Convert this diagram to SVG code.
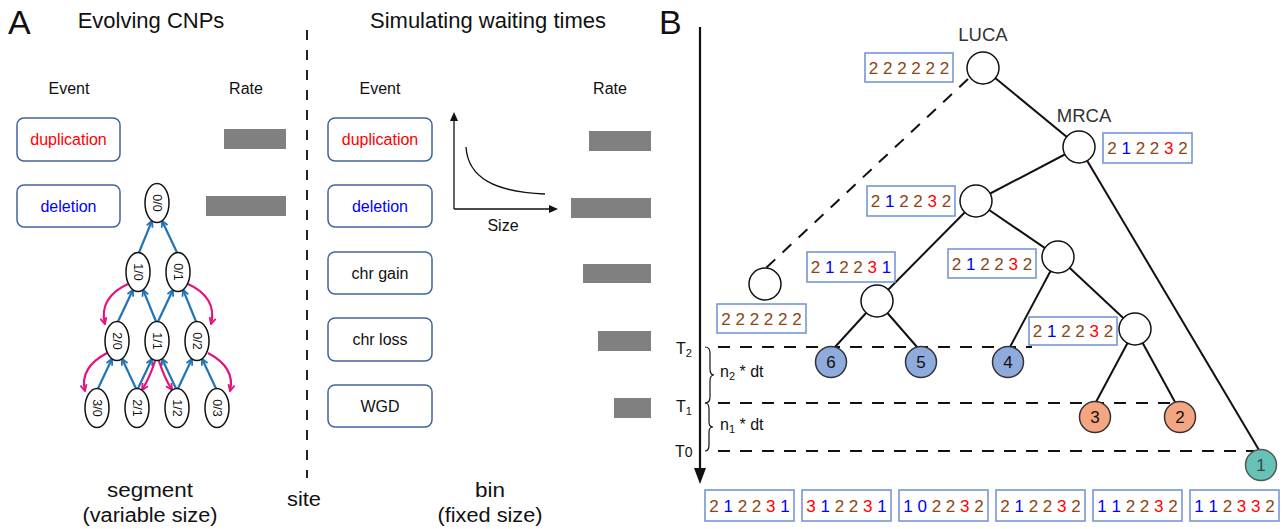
<svg xmlns="http://www.w3.org/2000/svg" width="1282" height="529" viewBox="0 0 1282 529">
<style>
text{font-family:"Liberation Sans",Arial,sans-serif;fill:#111}
.big{font-size:34px}
.h{font-size:22px}
.lab{font-size:16px}
.ev{fill:#fff;stroke:#41639f;stroke-width:1.5}
.bar{fill:#808080}
.ell{fill:#fff;stroke:#111;stroke-width:1.5}
.et{font-size:12.5px}
.bl{stroke:#1f74b8;stroke-width:2.2;fill:none}
.pk{stroke:#e5117f;stroke-width:2.2;fill:none}
.cnb{fill:#fff;stroke:#6d90d8;stroke-width:1.5}
.cn{font-size:17px}
.b{fill:#8b4513}.u{fill:#0000ff}.r{fill:#ff0000}
.edge{stroke:#111;stroke-width:2;fill:none}
.dash{stroke:#111;stroke-width:2;stroke-dasharray:12 10;fill:none}
.node{fill:#fff;stroke:#111;stroke-width:1.5}
.lf{stroke:#333;stroke-width:1.5}
.lt{font-size:17px}
</style>
<defs>
<marker id="ab" viewBox="0 0 10 10" refX="8.5" refY="5" markerWidth="9" markerHeight="9" markerUnits="userSpaceOnUse" orient="auto"><path d="M1.5,1.5 L8.5,5 L1.5,8.5" fill="none" stroke="#1f74b8" stroke-width="2"/></marker>
<marker id="ap" viewBox="0 0 10 10" refX="8.5" refY="5" markerWidth="9" markerHeight="9" markerUnits="userSpaceOnUse" orient="auto"><path d="M1.5,1.5 L8.5,5 L1.5,8.5" fill="none" stroke="#e5117f" stroke-width="2"/></marker>
</defs>
<rect width="1282" height="529" fill="#fff"/>

<!-- Panel A -->
<text class="big" x="8" y="34">A</text>
<text class="h" x="151" y="28" text-anchor="middle">Evolving CNPs</text>
<text class="h" x="488" y="28" text-anchor="middle">Simulating waiting times</text>
<text class="lab" x="69" y="94" text-anchor="middle">Event</text>
<text class="lab" x="246" y="94" text-anchor="middle">Rate</text>
<text class="lab" x="380" y="94" text-anchor="middle">Event</text>
<text class="lab" x="610" y="94" text-anchor="middle">Rate</text>

<g id="ev-dup-left"><rect class="ev" x="17" y="118" width="103" height="43" rx="7"/><text class="lab" x="68.5" y="145" text-anchor="middle" style="fill:#ff0000">duplication</text></g>
<g id="ev-del-left"><rect class="ev" x="17" y="185" width="103" height="42" rx="7"/><text class="lab" x="68.5" y="211.5" text-anchor="middle" style="fill:#0000ff">deletion</text></g>
<rect class="bar" x="224" y="129" width="62" height="20"/>
<rect class="bar" x="206" y="196" width="80" height="20"/>

<g id="ev-dup"><rect class="ev" x="328" y="118" width="104" height="43" rx="7"/><text class="lab" x="380" y="145" text-anchor="middle" style="fill:#ff0000">duplication</text></g>
<g id="ev-del"><rect class="ev" x="328" y="185" width="104" height="42" rx="7"/><text class="lab" x="380" y="211.5" text-anchor="middle" style="fill:#0000ff">deletion</text></g>
<g id="ev-gain"><rect class="ev" x="328" y="252" width="104" height="42" rx="7"/><text class="lab" x="380" y="278.5" text-anchor="middle">chr gain</text></g>
<g id="ev-loss"><rect class="ev" x="328" y="318" width="104" height="43" rx="7"/><text class="lab" x="380" y="345" text-anchor="middle">chr loss</text></g>
<g id="ev-wgd"><rect class="ev" x="328" y="385" width="104" height="42" rx="7"/><text class="lab" x="380" y="411.5" text-anchor="middle">WGD</text></g>
<rect class="bar" x="589" y="131" width="62" height="20"/>
<rect class="bar" x="571" y="198" width="80" height="20"/>
<rect class="bar" x="583" y="264" width="68" height="19"/>
<rect class="bar" x="598" y="331" width="53" height="20"/>
<rect class="bar" x="614" y="398" width="37" height="20"/>

<!-- size plot -->
<g id="size-plot">
<line x1="454" y1="209" x2="454" y2="120" stroke="#111" stroke-width="1.3"/>
<polygon points="450,121 458,121 454,112" fill="#111"/>
<line x1="454" y1="209" x2="550" y2="209" stroke="#111" stroke-width="1.3"/>
<polygon points="549,205 549,213 558,209" fill="#111"/>
<path d="M466,147 C468,178 495,192 545,194" fill="none" stroke="#111" stroke-width="1.3"/>
<text class="lab" x="503" y="231" text-anchor="middle">Size</text>
</g>

<line x1="307" y1="30" x2="307" y2="478" stroke="#222" stroke-width="2" stroke-dasharray="10 10"/>

<text x="150" y="497" font-size="20" text-anchor="middle" textLength="86" lengthAdjust="spacingAndGlyphs">segment</text>
<text x="150" y="522" font-size="20" text-anchor="middle" textLength="135" lengthAdjust="spacingAndGlyphs">(variable size)</text>
<text x="304" y="506" font-size="20" text-anchor="middle" textLength="34" lengthAdjust="spacingAndGlyphs">site</text>
<text x="490" y="497" font-size="20" text-anchor="middle" textLength="30" lengthAdjust="spacingAndGlyphs">bin</text>
<text x="490" y="522" font-size="20" text-anchor="middle" textLength="105" lengthAdjust="spacingAndGlyphs">(fixed size)</text>

<!-- state graph connectors -->
<g id="state-connectors">
<line class="bl" x1="139" y1="252.5" x2="152" y2="220.7" marker-end="url(#ab)"/>
<line class="bl" x1="177" y1="252.5" x2="162" y2="220.7" marker-end="url(#ab)"/>
<line class="bl" x1="118" y1="321.5" x2="133" y2="289.7" marker-end="url(#ab)"/>
<line class="bl" x1="156" y1="321.5" x2="143" y2="289.7" marker-end="url(#ab)"/>
<line class="bl" x1="158" y1="321.5" x2="173" y2="289.7" marker-end="url(#ab)"/>
<line class="bl" x1="196" y1="321.5" x2="183" y2="289.7" marker-end="url(#ab)"/>
<line class="bl" x1="98" y1="388.5" x2="112" y2="358.7" marker-end="url(#ab)"/>
<line class="bl" x1="136" y1="388.5" x2="122" y2="358.7" marker-end="url(#ab)"/>
<line class="bl" x1="138" y1="388.5" x2="152" y2="358.7" marker-end="url(#ab)"/>
<line class="bl" x1="176" y1="388.5" x2="162" y2="358.7" marker-end="url(#ab)"/>
<line class="bl" x1="178" y1="388.5" x2="192" y2="358.7" marker-end="url(#ab)"/>
<line class="bl" x1="216" y1="388.5" x2="202" y2="358.7" marker-end="url(#ab)"/>
<path class="pk" d="M128,284 C110,292 100,306 105,324" marker-end="url(#ap)"/>
<path class="pk" d="M188,284 C206,292 216,306 211,324" marker-end="url(#ap)"/>
<path class="pk" d="M107,353 C90,362 81,375 85,391" marker-end="url(#ap)"/>
<path class="pk" d="M208,353 C225,362 234,375 230,391" marker-end="url(#ap)"/>
<path class="pk" d="M155,361 Q150,377 142,390" marker-end="url(#ap)"/>
<path class="pk" d="M159,361 Q164,377 172,390" marker-end="url(#ap)"/>
</g>

<g id="s00"><ellipse class="ell" cx="157" cy="203" rx="12" ry="19.5"/><text class="et" transform="translate(157,203) rotate(90)" text-anchor="middle" y="4.5">0/0</text></g>
<g id="s10"><ellipse class="ell" cx="138" cy="272" rx="12" ry="19.5"/><text class="et" transform="translate(138,272) rotate(90)" text-anchor="middle" y="4.5">1/0</text></g>
<g id="s01"><ellipse class="ell" cx="178" cy="272" rx="12" ry="19.5"/><text class="et" transform="translate(178,272) rotate(90)" text-anchor="middle" y="4.5">0/1</text></g>
<g id="s20"><ellipse class="ell" cx="117" cy="341" rx="12" ry="19.5"/><text class="et" transform="translate(117,341) rotate(90)" text-anchor="middle" y="4.5">2/0</text></g>
<g id="s11"><ellipse class="ell" cx="157" cy="341" rx="12" ry="19.5"/><text class="et" transform="translate(157,341) rotate(90)" text-anchor="middle" y="4.5">1/1</text></g>
<g id="s02"><ellipse class="ell" cx="197" cy="341" rx="12" ry="19.5"/><text class="et" transform="translate(197,341) rotate(90)" text-anchor="middle" y="4.5">0/2</text></g>
<g id="s30"><ellipse class="ell" cx="97" cy="408" rx="12" ry="19.5"/><text class="et" transform="translate(97,408) rotate(90)" text-anchor="middle" y="4.5">3/0</text></g>
<g id="s21"><ellipse class="ell" cx="137" cy="408" rx="12" ry="19.5"/><text class="et" transform="translate(137,408) rotate(90)" text-anchor="middle" y="4.5">2/1</text></g>
<g id="s12"><ellipse class="ell" cx="177" cy="408" rx="12" ry="19.5"/><text class="et" transform="translate(177,408) rotate(90)" text-anchor="middle" y="4.5">1/2</text></g>
<g id="s03"><ellipse class="ell" cx="217" cy="408" rx="12" ry="19.5"/><text class="et" transform="translate(217,408) rotate(90)" text-anchor="middle" y="4.5">0/3</text></g>

<!-- Panel B -->
<text class="big" x="659" y="34">B</text>
<g id="time-axis">
<line x1="700" y1="27" x2="700" y2="472" stroke="#111" stroke-width="2.2"/>
<polygon points="694,468 706,468 700,484" fill="#111"/>
<text x="676" y="354" font-size="16">T<tspan font-size="11" dy="3">2</tspan></text>
<text x="676" y="412" font-size="16">T<tspan font-size="11" dy="3">1</tspan></text>
<text x="675" y="457" font-size="16">T<tspan font-size="14">0</tspan></text>
<path d="M705,347 Q710,347 710,353 L710,369 Q710,375 714,375 Q710,375 710,381 L710,397 Q710,403 705,403" fill="none" stroke="#111" stroke-width="1.2"/>
<path d="M705,403 Q709,403 709,409 L709,422 Q709,427 713,427 Q709,427 709,432 L709,445 Q709,451 705,451" fill="none" stroke="#111" stroke-width="1.2"/>
<text x="720" y="377" font-size="16">n<tspan font-size="11" dy="3">2</tspan><tspan dy="-3"> * dt</tspan></text>
<text x="720" y="430" font-size="16">n<tspan font-size="11" dy="3">1</tspan><tspan dy="-3"> * dt</tspan></text>
</g>

<g id="tree-connectors">
<line class="dash" x1="718" y1="347" x2="1032" y2="347"/>
<line class="dash" x1="718" y1="403" x2="1177" y2="403"/>
<line class="dash" x1="718" y1="451" x2="1260" y2="451"/>
<line class="dash" x1="968" y1="79" x2="766" y2="268"/>
<line class="edge" x1="983" y1="68" x2="1079" y2="147"/>
<line class="edge" x1="1079" y1="147" x2="1259" y2="450"/>
<line class="edge" x1="1079" y1="147" x2="976" y2="201"/>
<line class="edge" x1="976" y1="201" x2="877" y2="301"/>
<line class="edge" x1="976" y1="201" x2="1058" y2="257"/>
<line class="edge" x1="877" y1="301" x2="835" y2="347"/>
<line class="edge" x1="877" y1="301" x2="917" y2="347"/>
<line class="edge" x1="1058" y1="257" x2="1010" y2="347"/>
<line class="edge" x1="1058" y1="257" x2="1135" y2="329"/>
<line class="edge" x1="1135" y1="329" x2="1096" y2="402"/>
<line class="edge" x1="1135" y1="329" x2="1175" y2="402"/>
</g>

<g id="luca"><text x="983" y="41" font-size="18.5" text-anchor="middle" style="fill:#333">LUCA</text><circle class="node" cx="983" cy="68" r="16"/>
<rect class="cnb" x="865" y="53" width="88" height="29"/><text class="cn" x="909" y="73.5" text-anchor="middle"><tspan class="b">2</tspan> <tspan class="b">2</tspan> <tspan class="b">2</tspan> <tspan class="b">2</tspan> <tspan class="b">2</tspan> <tspan class="b">2</tspan></text></g>
<g id="mrca"><text x="1084" y="122" font-size="18.5" text-anchor="middle" style="fill:#333">MRCA</text><circle class="node" cx="1079" cy="147" r="16"/>
<rect class="cnb" x="1103" y="133" width="89" height="30"/><text class="cn" x="1147.5" y="154" text-anchor="middle"><tspan class="b">2</tspan> <tspan class="u">1</tspan> <tspan class="b">2</tspan> <tspan class="b">2</tspan> <tspan class="r">3</tspan> <tspan class="b">2</tspan></text></g>
<g id="n3"><circle class="node" cx="976" cy="201" r="16"/>
<rect class="cnb" x="867" y="186" width="88" height="30"/><text class="cn" x="911" y="207" text-anchor="middle"><tspan class="b">2</tspan> <tspan class="u">1</tspan> <tspan class="b">2</tspan> <tspan class="b">2</tspan> <tspan class="r">3</tspan> <tspan class="b">2</tspan></text></g>
<g id="dead"><circle class="node" cx="765" cy="284" r="16"/>
<rect class="cnb" x="717" y="304" width="89" height="29"/><text class="cn" x="761.5" y="324.5" text-anchor="middle"><tspan class="b">2</tspan> <tspan class="b">2</tspan> <tspan class="b">2</tspan> <tspan class="b">2</tspan> <tspan class="b">2</tspan> <tspan class="b">2</tspan></text></g>
<g id="n4"><circle class="node" cx="877" cy="301" r="16"/>
<rect class="cnb" x="807" y="252" width="88" height="30"/><text class="cn" x="851" y="273" text-anchor="middle"><tspan class="b">2</tspan> <tspan class="u">1</tspan> <tspan class="b">2</tspan> <tspan class="b">2</tspan> <tspan class="r">3</tspan> <tspan class="u">1</tspan></text></g>
<g id="n5"><circle class="node" cx="1058" cy="257" r="16"/>
<rect class="cnb" x="948" y="249" width="88" height="29"/><text class="cn" x="992" y="269.5" text-anchor="middle"><tspan class="b">2</tspan> <tspan class="u">1</tspan> <tspan class="b">2</tspan> <tspan class="b">2</tspan> <tspan class="r">3</tspan> <tspan class="b">2</tspan></text></g>
<g id="n6"><circle class="node" cx="1135" cy="329" r="16"/>
<rect class="cnb" x="1029" y="317" width="88" height="28"/><text class="cn" x="1073" y="337" text-anchor="middle"><tspan class="b">2</tspan> <tspan class="u">1</tspan> <tspan class="b">2</tspan> <tspan class="b">2</tspan> <tspan class="r">3</tspan> <tspan class="b">2</tspan></text></g>

<g id="leaf6"><circle class="lf" cx="831" cy="362" r="15.5" fill="#8faadc"/><text class="lt" x="831" y="368" text-anchor="middle">6</text></g>
<g id="leaf5"><circle class="lf" cx="921" cy="362" r="15.5" fill="#8faadc"/><text class="lt" x="921" y="368" text-anchor="middle">5</text></g>
<g id="leaf4"><circle class="lf" cx="1008" cy="362" r="15.5" fill="#8faadc"/><text class="lt" x="1008" y="368" text-anchor="middle">4</text></g>
<g id="leaf3"><circle class="lf" cx="1095" cy="417" r="15.5" fill="#f4a582"/><text class="lt" x="1095" y="423" text-anchor="middle">3</text></g>
<g id="leaf2"><circle class="lf" cx="1180" cy="417" r="15.5" fill="#f4a582"/><text class="lt" x="1180" y="423" text-anchor="middle">2</text></g>
<g id="leaf1"><circle cx="1261" cy="465" r="15.5" fill="#66c2b7" stroke="#555" stroke-width="1.5"/><text class="lt" x="1261" y="471" text-anchor="middle" style="fill:#444">1</text></g>

<g id="leaf-cnps">
<rect class="cnb" x="705" y="490" width="89" height="31"/><text class="cn" x="749.5" y="512" text-anchor="middle"><tspan class="b">2</tspan> <tspan class="u">1</tspan> <tspan class="b">2</tspan> <tspan class="b">2</tspan> <tspan class="r">3</tspan> <tspan class="u">1</tspan></text>
<rect class="cnb" x="802" y="490" width="89" height="31"/><text class="cn" x="846.5" y="512" text-anchor="middle"><tspan class="r">3</tspan> <tspan class="u">1</tspan> <tspan class="b">2</tspan> <tspan class="b">2</tspan> <tspan class="r">3</tspan> <tspan class="u">1</tspan></text>
<rect class="cnb" x="899" y="490" width="89" height="31"/><text class="cn" x="943.5" y="512" text-anchor="middle"><tspan class="u">1</tspan> <tspan class="u">0</tspan> <tspan class="b">2</tspan> <tspan class="b">2</tspan> <tspan class="r">3</tspan> <tspan class="b">2</tspan></text>
<rect class="cnb" x="996" y="490" width="89" height="31"/><text class="cn" x="1040.5" y="512" text-anchor="middle"><tspan class="b">2</tspan> <tspan class="u">1</tspan> <tspan class="b">2</tspan> <tspan class="b">2</tspan> <tspan class="r">3</tspan> <tspan class="b">2</tspan></text>
<rect class="cnb" x="1093" y="490" width="89" height="31"/><text class="cn" x="1137.5" y="512" text-anchor="middle"><tspan class="u">1</tspan> <tspan class="u">1</tspan> <tspan class="b">2</tspan> <tspan class="b">2</tspan> <tspan class="r">3</tspan> <tspan class="b">2</tspan></text>
<rect class="cnb" x="1190" y="490" width="89" height="31"/><text class="cn" x="1234.5" y="512" text-anchor="middle"><tspan class="u">1</tspan> <tspan class="u">1</tspan> <tspan class="b">2</tspan> <tspan class="r">3</tspan> <tspan class="r">3</tspan> <tspan class="b">2</tspan></text>
</g>
</svg>
